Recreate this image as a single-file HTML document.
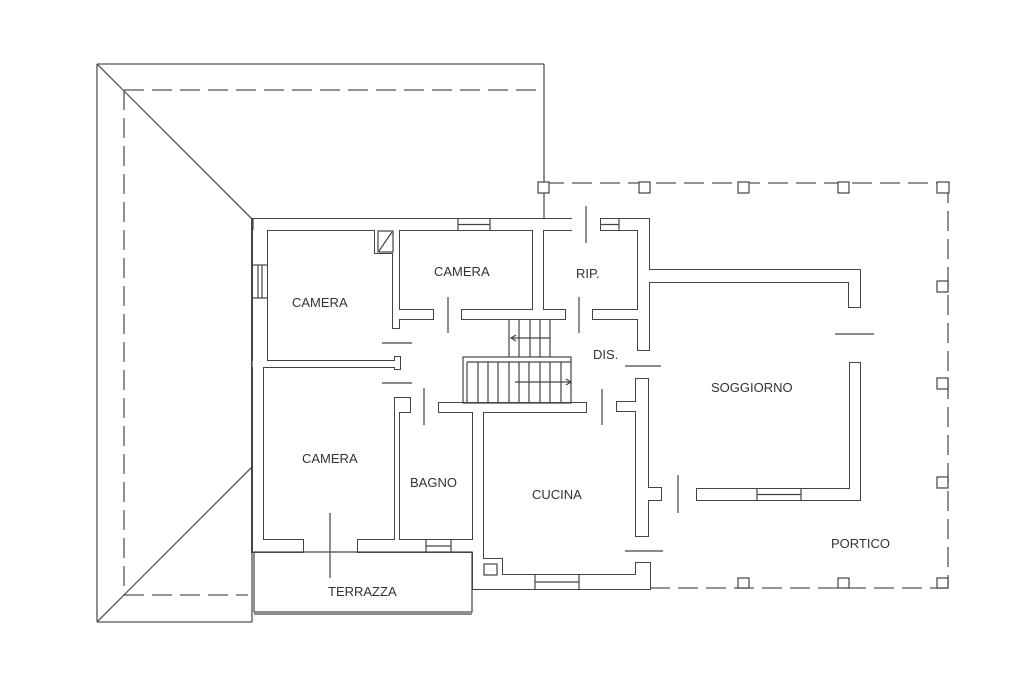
<!DOCTYPE html>
<html><head><meta charset="utf-8"><style>
html,body{margin:0;padding:0;background:#fff;}
svg{display:block;}
text{font-family:"Liberation Sans",sans-serif;font-size:13px;fill:#333;}
</style></head><body>
<svg width="1024" height="683" viewBox="0 0 1024 683" xmlns="http://www.w3.org/2000/svg">
<rect width="1024" height="683" fill="#fff"/>
<!-- roof -->
<g stroke="#555" stroke-width="1.3" fill="none">
<line x1="97" y1="64" x2="544" y2="64"/>
<line x1="97" y1="64" x2="97" y2="622"/>
<line x1="97" y1="622" x2="252" y2="622"/>
<line x1="544" y1="64" x2="544" y2="219"/>
<line x1="97" y1="64" x2="252" y2="219"/>
<line x1="97" y1="622" x2="252" y2="467"/>
</g>
<g stroke="#555" stroke-width="1.3" fill="none" stroke-dasharray="20,8">
<line x1="124" y1="90" x2="540" y2="90"/>
<line x1="124" y1="90" x2="124" y2="595"/>
<line x1="124" y1="595" x2="248" y2="595"/>
<!-- portico -->
<line x1="544" y1="183" x2="948" y2="183"/>
<line x1="948" y1="183" x2="948" y2="588"/>
<line x1="650" y1="588" x2="948" y2="588"/>
</g>
<g stroke="#444" stroke-width="1.2" fill="#fff">
<rect x="538" y="182" width="11" height="11"/>
<rect x="639" y="182" width="11" height="11"/>
<rect x="738" y="182" width="11" height="11"/>
<rect x="838" y="182" width="11" height="11"/>
<rect x="937" y="182" width="12" height="11"/>
<rect x="937" y="281" width="11" height="11"/>
<rect x="937" y="378" width="11" height="11"/>
<rect x="937" y="477" width="11" height="11"/>
<rect x="738" y="578" width="11" height="10"/>
<rect x="838" y="578" width="11" height="10"/>
<rect x="937" y="578" width="11" height="10"/>
</g>
<!-- walls dark pass -->
<g fill="#444" transform="translate(-1,-1)">
<rect x="252" y="219" width="321" height="13"/>
<rect x="601" y="219" width="50" height="13"/>
<rect x="252" y="219" width="17" height="150"/>
<rect x="252" y="361" width="13" height="193"/>
<rect x="252" y="361" width="148" height="8"/>
<rect x="395" y="357" width="7" height="14"/>
<rect x="393" y="230" width="8" height="100"/>
<rect x="393" y="310" width="42" height="11"/>
<rect x="375" y="230" width="20" height="25"/>
<rect x="462" y="310" width="105" height="11"/>
<rect x="533" y="219" width="12" height="102"/>
<rect x="638" y="219" width="13" height="133"/>
<rect x="593" y="310" width="47" height="11"/>
<rect x="638" y="270" width="224" height="14"/>
<rect x="849" y="270" width="13" height="39"/>
<rect x="439" y="403" width="149" height="11"/>
<rect x="395" y="398" width="6" height="144"/>
<rect x="395" y="398" width="17" height="16"/>
<rect x="473" y="403" width="12" height="188"/>
<rect x="252" y="540" width="53" height="14"/>
<rect x="358" y="540" width="117" height="14"/>
<rect x="473" y="575" width="179" height="16"/>
<rect x="483" y="559" width="21" height="18"/>
<rect x="636" y="563" width="16" height="14"/>
<rect x="636" y="379" width="14" height="159"/>
<rect x="617" y="402" width="21" height="11"/>
<rect x="648" y="488" width="15" height="14"/>
<rect x="697" y="489" width="165" height="13"/>
<rect x="850" y="363" width="12" height="139"/>
</g>
<g fill="#fff">
<rect x="252" y="219" width="321" height="11"/>
<rect x="601" y="219" width="48" height="11"/>
<rect x="253" y="219" width="14" height="148"/>
<rect x="253" y="361" width="10" height="191"/>
<rect x="252" y="361" width="146" height="6"/>
<rect x="395" y="357" width="5" height="12"/>
<rect x="393" y="230" width="6" height="98"/>
<rect x="393" y="310" width="40" height="9"/>
<rect x="375" y="230" width="18" height="23"/>
<rect x="462" y="310" width="103" height="9"/>
<rect x="533" y="219" width="10" height="100"/>
<rect x="638" y="219" width="11" height="131"/>
<rect x="593" y="310" width="45" height="9"/>
<rect x="638" y="270" width="222" height="12"/>
<rect x="849" y="270" width="11" height="37"/>
<rect x="439" y="403" width="147" height="9"/>
<rect x="395" y="398" width="4" height="142"/>
<rect x="395" y="398" width="15" height="14"/>
<rect x="473" y="403" width="10" height="186"/>
<rect x="253" y="540" width="50" height="12"/>
<rect x="358" y="540" width="115" height="12"/>
<rect x="473" y="575" width="177" height="14"/>
<rect x="483" y="559" width="19" height="16"/>
<rect x="636" y="563" width="14" height="12"/>
<rect x="636" y="379" width="12" height="157"/>
<rect x="617" y="402" width="19" height="9"/>
<rect x="648" y="488" width="13" height="12"/>
<rect x="697" y="489" width="163" height="11"/>
<rect x="850" y="363" width="10" height="137"/>
</g>
<g stroke="#444" stroke-width="1.2" fill="none">
<line x1="252" y1="219" x2="252" y2="622"/>
<line x1="253" y1="219" x2="253" y2="230"/>
<!-- closet -->
<rect x="378" y="231" width="15" height="21"/>
<line x1="379" y1="251" x2="392" y2="232"/>
<!-- windows -->
<line x1="458" y1="219" x2="458" y2="230"/><line x1="490" y1="219" x2="490" y2="230"/><line x1="458" y1="224.5" x2="490" y2="224.5"/>
<line x1="619" y1="219" x2="619" y2="230"/><line x1="601" y1="224.5" x2="619" y2="224.5"/>
<line x1="253" y1="265" x2="267" y2="265"/><line x1="253" y1="298" x2="267" y2="298"/><line x1="258" y1="265" x2="258" y2="298"/><line x1="262" y1="265" x2="262" y2="298"/>
<line x1="426" y1="540" x2="426" y2="552"/><line x1="451" y1="540" x2="451" y2="552"/><line x1="426" y1="546" x2="451" y2="546"/>
<line x1="535" y1="575" x2="535" y2="589"/><line x1="579" y1="575" x2="579" y2="589"/><line x1="535" y1="582" x2="579" y2="582"/>
<line x1="757" y1="489" x2="757" y2="500"/><line x1="801" y1="489" x2="801" y2="500"/><line x1="757" y1="494.5" x2="801" y2="494.5"/>
<!-- terrazza -->
<rect x="254" y="552" width="218" height="60"/>
<line x1="254" y1="614" x2="472" y2="614"/>
<line x1="472" y1="589" x2="473" y2="589"/>
<rect x="484" y="564" width="13" height="11"/>
<!-- door leaves -->
<line x1="448" y1="297" x2="448" y2="333"/>
<line x1="579" y1="297" x2="579" y2="333"/>
<line x1="586" y1="206" x2="586" y2="243"/>
<line x1="382" y1="343" x2="412" y2="343"/>
<line x1="382" y1="383" x2="412" y2="383"/>
<line x1="424" y1="388" x2="424" y2="425"/>
<line x1="602" y1="389" x2="602" y2="425"/>
<line x1="625" y1="366" x2="661" y2="366"/>
<line x1="625" y1="551" x2="663" y2="551"/>
<line x1="678" y1="475" x2="678" y2="513"/>
<line x1="835" y1="334" x2="874" y2="334"/>
<line x1="330" y1="513" x2="330" y2="578"/>
<!-- stairs -->
<line x1="509" y1="319" x2="509" y2="357"/><line x1="519" y1="319" x2="519" y2="357"/><line x1="530" y1="319" x2="530" y2="357"/><line x1="540" y1="319" x2="540" y2="357"/><line x1="550" y1="319" x2="550" y2="357"/>
<rect x="463" y="357" width="108" height="46"/>
<line x1="467" y1="362" x2="571" y2="362"/>
<line x1="467" y1="362" x2="467" y2="403"/><line x1="478" y1="362" x2="478" y2="403"/><line x1="488" y1="362" x2="488" y2="403"/><line x1="498" y1="362" x2="498" y2="403"/><line x1="509" y1="362" x2="509" y2="403"/><line x1="519" y1="362" x2="519" y2="403"/><line x1="529" y1="362" x2="529" y2="403"/><line x1="540" y1="362" x2="540" y2="403"/><line x1="550" y1="362" x2="550" y2="403"/><line x1="561" y1="362" x2="561" y2="403"/>
<line x1="511" y1="338" x2="550" y2="338"/><polyline points="516,335 511,338 516,341"/>
<line x1="515" y1="382" x2="571" y2="382"/><polyline points="566,379 571,382 566,385"/>
</g>
<text x="292" y="307">CAMERA</text>
<text x="434" y="276">CAMERA</text>
<text x="576" y="278">RIP.</text>
<text x="593" y="359">DIS.</text>
<text x="711" y="392">SOGGIORNO</text>
<text x="302" y="463">CAMERA</text>
<text x="410" y="487">BAGNO</text>
<text x="532" y="499">CUCINA</text>
<text x="831" y="548">PORTICO</text>
<text x="328" y="596">TERRAZZA</text>
</svg>
</body></html>
